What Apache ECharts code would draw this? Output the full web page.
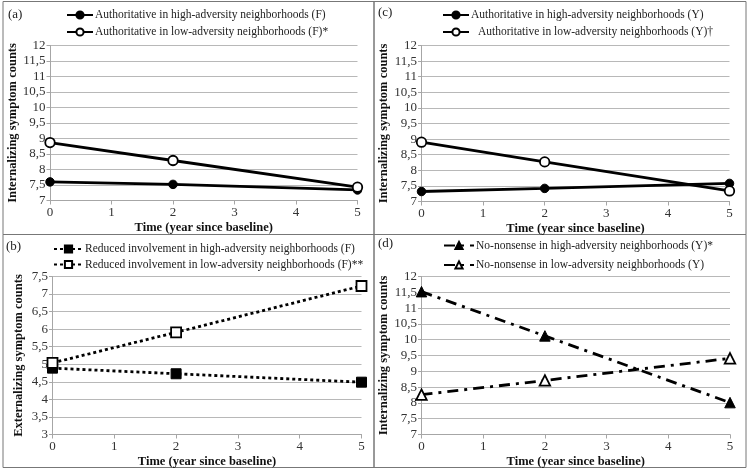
<!DOCTYPE html>
<html><head><meta charset="utf-8">
<script src="https://cdn.jsdelivr.net/npm/echarts@6/dist/echarts.min.js"></script>
<style>html,body{margin:0;padding:0;background:#fff}#c{width:750px;height:471px}</style>
</head><body><div id="c"></div>
<script>
// ---- data ----
var timePoints = [0, 2, 5];
var xTicks = [0, 1, 2, 3, 4, 5];
// panel (a)
var aNames = ['Authoritative in high-adversity neighborhoods (F)', 'Authoritative in low-adversity neighborhoods (F)*'];
var aHigh = [7.6, 7.52, 7.34];
var aLow = [8.87, 8.29, 7.43];
// panel (c)
var cNames = ['Authoritative in high-adversity neighborhoods (Y)', 'Authoritative in low-adversity neighborhoods (Y)\u2020'];
var cHigh = [7.32, 7.42, 7.58];
var cLow = [8.9, 8.27, 7.34];
// panel (b)
var bNames = ['Reduced involvement in high-adversity neighborhoods (F)', 'Reduced involvement in low-adversity neighborhoods (F)**'];
var bHigh = [4.89, 4.73, 4.49];
var bLow = [5.04, 5.91, 7.23];
// panel (d)
var dNames = ['No-nonsense in high-adversity neighborhoods (Y)*', 'No-nonsense in low-adversity neighborhoods (Y)'];
var dHigh = [11.52, 10.12, 8.01];
var dLow = [8.26, 8.71, 9.41];
// axes
var yRangeInt = [7, 12];
var yRangeExt = [3, 7.5];
var panelLabels = ['(a)', '(c)', '(b)', '(d)'];
var yTitles = ['Internalizing symptom counts', 'Internalizing symptom counts', 'Externalizing symptom counts', 'Internalizing symptom counts'];
var xTitle = 'Time (year since baseline)';

function pairs(vals) { return vals.map(function (v, i) { return [timePoints[i], v]; }); }

var serif = "'Liberation Serif', serif";
var grids = [
  { left: 50, top: 45.5, width: 307.5, height: 155 },
  { left: 421.5, top: 45.5, width: 308, height: 156 },
  { left: 52.5, top: 276.5, width: 309, height: 158 },
  { left: 421.5, top: 276.5, width: 308.5, height: 158 }
];
var yr = [yRangeInt, yRangeInt, yRangeExt, yRangeInt];
var yGaps = [25, 26.5, 27.5, 25.5];

var xAxes = grids.map(function (g, i) {
  return {
    type: 'value', gridIndex: i, min: xTicks[0], max: xTicks[xTicks.length - 1], interval: 1,
    name: xTitle, nameLocation: 'middle', nameGap: 21,
    nameTextStyle: { fontFamily: serif, fontWeight: 'bold', fontSize: 12.5, color: '#111' },
    axisLine: { show: true, lineStyle: { color: '#a6a6a6', width: 1 } },
    axisTick: { show: true, length: 4, lineStyle: { color: '#a6a6a6' } },
    axisLabel: { fontFamily: serif, fontSize: 13, color: '#333', margin: 6 },
    splitLine: { show: false }
  };
});
var yAxes = grids.map(function (g, i) {
  return {
    type: 'value', gridIndex: i, min: yr[i][0], max: yr[i][1], interval: 0.5,
    name: yTitles[i], nameLocation: 'middle', nameGap: yGaps[i],
    nameTextStyle: { fontFamily: serif, fontWeight: 'bold', fontSize: 12.5, color: '#111' },
    axisLine: { show: true, lineStyle: { color: '#a6a6a6', width: 1 } },
    axisTick: { show: true, length: 3.5, lineStyle: { color: '#a6a6a6' } },
    axisLabel: { fontFamily: serif, fontSize: 13, color: '#333', margin: 4.5,
      formatter: function (v) { return String(v).replace('.', ','); } },
    splitLine: { show: true, lineStyle: { color: '#b8b8b8', width: 1 } }
  };
});

function mk(name, data, idx, symbol, filled, lineType, size) {
  return {
    type: 'line', name: name, data: pairs(data), xAxisIndex: idx, yAxisIndex: idx,
    symbol: symbol, symbolSize: size, showSymbol: true,
    lineStyle: { color: '#000', width: 2.8, type: lineType },
    itemStyle: filled ? { color: '#000', borderColor: '#000', borderWidth: 1 } : { color: '#fff', borderColor: '#000', borderWidth: 1.8 },
    emphasis: { disabled: true }, animation: false, z: 3
  };
}
var dashDot = [11, 6, 3, 6];
var dotted = [3, 3];
var series = [
  mk(aNames[0], aHigh, 0, 'circle', true, 'solid', 8.5),
  mk(aNames[1], aLow, 0, 'circle', false, 'solid', 9.5),
  mk(cNames[0], cHigh, 1, 'circle', true, 'solid', 8.5),
  mk(cNames[1], cLow, 1, 'circle', false, 'solid', 9.5),
  mk(bNames[0], bHigh, 2, 'rect', true, dotted, 10),
  mk(bNames[1], bLow, 2, 'rect', false, dotted, 10),
  mk(dNames[0], dHigh, 3, 'triangle', true, dashDot, 10.5),
  mk(dNames[1], dLow, 3, 'triangle', false, dashDot, 10.5)
];

function legend(names, left, top, gap, w, extraPad) {
  return {
    data: names.map(function (n, k) {
      return k === 1 && extraPad ? { name: n, textStyle: { padding: [0, 0, 0, extraPad] } } : { name: n };
    }),
    orient: 'vertical', left: left, top: top, itemWidth: w, itemHeight: 9, itemGap: gap,
    selectedMode: false, padding: 0,
    textStyle: { fontFamily: serif, fontSize: 11.5, color: '#222', padding: [0, 0, 0, -3] }
  };
}
var legends = [
  legend(aNames, 66, 9, 5, 26, 0),
  legend(cNames, 442, 9, 5, 26, 4),
  legend(bNames, 53, 243, 3.5, 29, 0),
  legend(dNames, 443, 239.5, 7.5, 30, 0)
];

var titles = [
  { text: panelLabels[0], left: 8, top: 8 },
  { text: panelLabels[1], left: 378, top: 6 },
  { text: panelLabels[2], left: 6, top: 240 },
  { text: panelLabels[3], left: 378, top: 237 }
].map(function (t) { t.textStyle = { fontFamily: serif, fontSize: 13, fontWeight: 'normal', color: '#222' }; t.padding = 0; return t; });

var chart = echarts.init(document.getElementById('c'), null, { renderer: 'canvas' });
chart.setOption({
  animation: false,
  backgroundColor: '#fff',
  title: titles,
  legend: legends,
  grid: grids,
  xAxis: xAxes,
  yAxis: yAxes,
  series: series,
  graphic: [
    { type: 'rect', shape: { x: 3, y: 1.5, width: 371, height: 233 }, style: { fill: 'none', stroke: '#777', lineWidth: 1 }, silent: true },
    { type: 'rect', shape: { x: 374, y: 1.5, width: 372, height: 233 }, style: { fill: 'none', stroke: '#777', lineWidth: 1 }, silent: true },
    { type: 'rect', shape: { x: 3, y: 234.5, width: 371, height: 233 }, style: { fill: 'none', stroke: '#777', lineWidth: 1 }, silent: true },
    { type: 'rect', shape: { x: 374, y: 234.5, width: 372, height: 233 }, style: { fill: 'none', stroke: '#777', lineWidth: 1 }, silent: true }
  ]
});
</script></body></html>
